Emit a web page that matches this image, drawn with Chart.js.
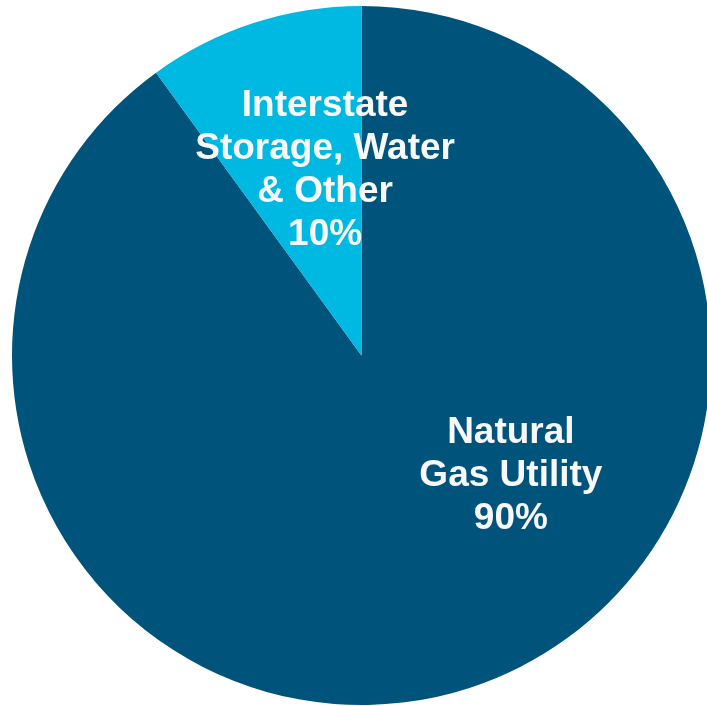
<!DOCTYPE html>
<html>
<head>
<meta charset="utf-8">
<script src="https://cdn.jsdelivr.net/npm/chart.js@4"></script>
<style>
  html, body { margin: 0; padding: 0; background: #fff; overflow: hidden; }
  #wrap { position: absolute; left: 0; top: 0; width: 723px; height: 711px; }
</style>
</head>
<body>
<div id="wrap"><canvas id="chart-pie"></canvas></div>
<script>
const segments = ['Natural Gas Utility', 'Interstate Storage, Water & Other'];
const shares = [90, 10];
const sliceLabels = [
  ['Natural', 'Gas Utility', '90%'],
  ['Interstate', 'Storage, Water', '& Other', '10%'],
];
const sliceColors = ['#00537b', '#00b9e2'];

// draws the multi-line labels inside each slice
const sliceLabelPlugin = {
  id: 'sliceLabels',
  afterDatasetsDraw(chart, args, opts) {
    const ctx = chart.ctx;
    const meta = chart.getDatasetMeta(0);
    ctx.save();
    ctx.fillStyle = opts.color;
    ctx.font = opts.font;
    ctx.textAlign = 'center';
    ctx.textBaseline = 'middle';
    meta.data.forEach((arc, i) => {
      const p = opts.place[i];
      const a = (p.angle - 90) * Math.PI / 180;
      const r = arc.outerRadius * p.radius;
      const cx = arc.x + Math.cos(a) * r;
      const cy = arc.y + Math.sin(a) * r;
      const lines = sliceLabels[i];
      const top = cy - (lines.length - 1) * opts.lineHeight / 2;
      lines.forEach((t, j) => ctx.fillText(t, cx, top + j * opts.lineHeight));
    });
    ctx.restore();
  }
};

const pieChart = new Chart(document.getElementById('chart-pie'), {
  type: 'pie',
  data: {
    labels: segments,
    datasets: [{ data: shares, backgroundColor: sliceColors, borderWidth: 0 }]
  },
  options: {
    responsive: true,
    maintainAspectRatio: false,
    animation: false,
    layout: { padding: 6 },
    plugins: {
      legend: { display: false },
      tooltip: { enabled: false },
      sliceLabels: {
        color: '#f8f8f8',
        font: "bold 37px 'Liberation Sans', Arial, sans-serif",
        lineHeight: 43,
        place: [{ angle: 128.75, radius: 0.548 }, { angle: -11.1, radius: 0.541 }]
      }
    }
  },
  plugins: [sliceLabelPlugin]
});
</script>
</body>
</html>
